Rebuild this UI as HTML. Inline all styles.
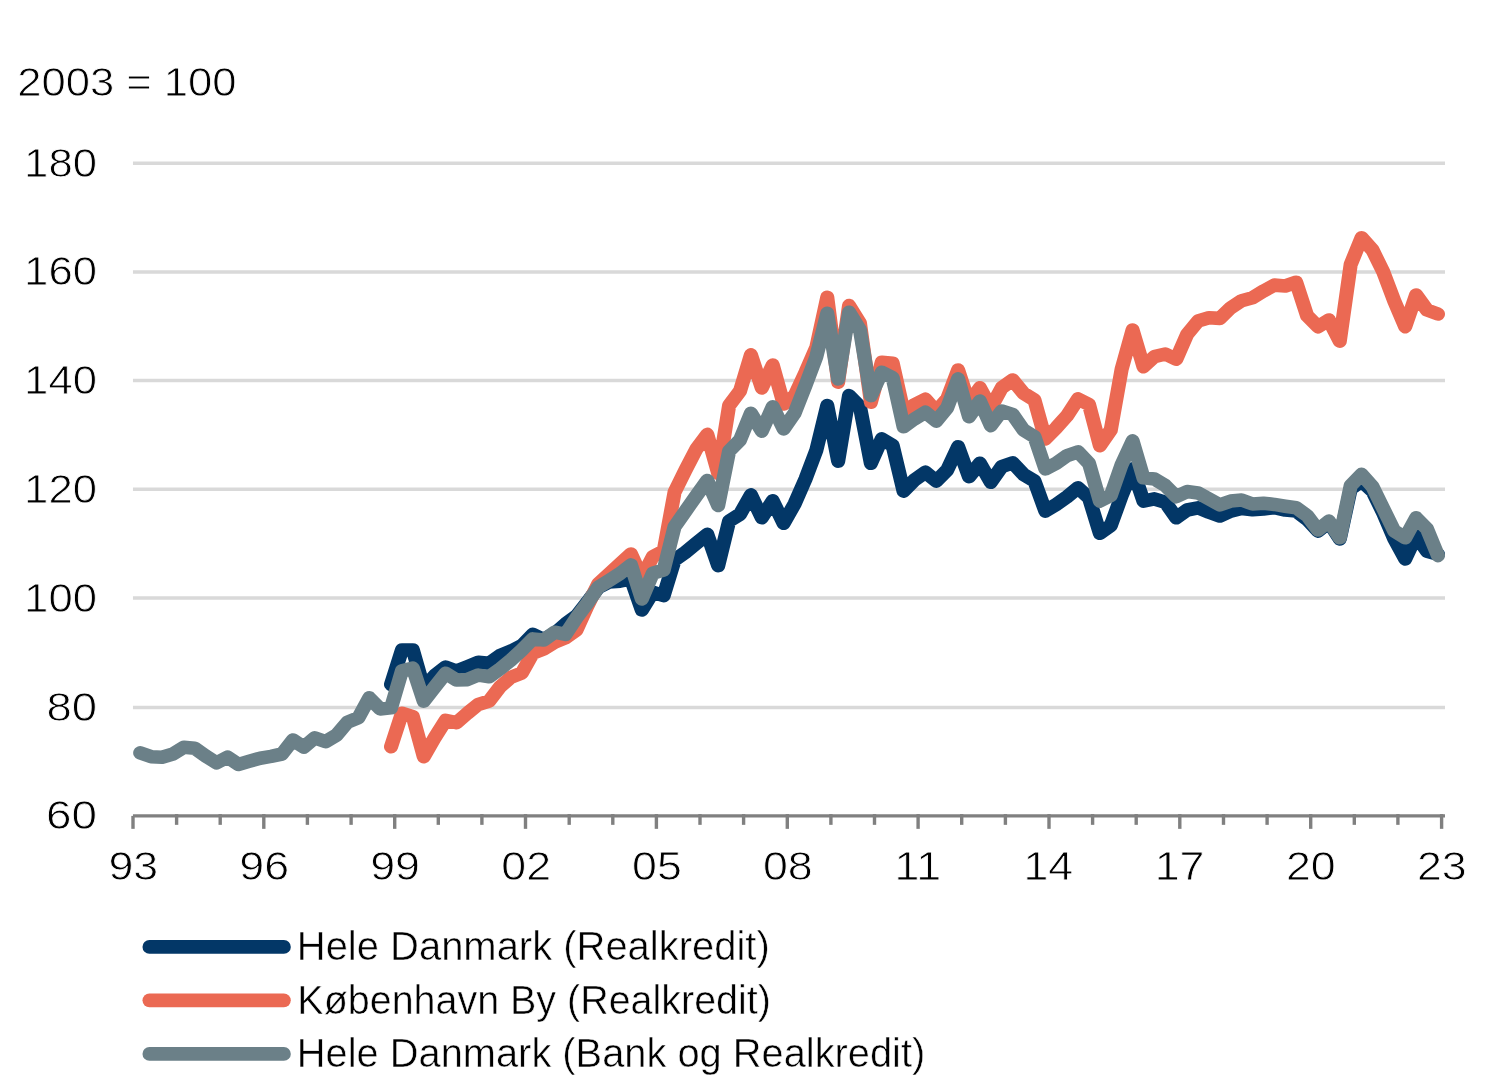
<!DOCTYPE html>
<html lang="da">
<head>
<meta charset="utf-8">
<title>2003 = 100</title>
<style>
html,body{margin:0;padding:0;background:#fff;}
body{width:1512px;height:1081px;overflow:hidden;}
svg{display:block;}
text{font-family:"Liberation Sans",sans-serif;fill:#000;stroke:#fff;stroke-width:0.8px;}
.grid line{stroke:#D9D9D9;stroke-width:3.5;}
.axis line{stroke:#808080;stroke-width:3.4;}
.ser path{fill:none;stroke-width:13.6;stroke-linecap:round;stroke-linejoin:round;}
.leg line{stroke-width:13.8;stroke-linecap:round;}
.leg text{stroke-width:0.5px;}
</style>
</head>
<body>
<svg width="1512" height="1081" viewBox="0 0 1512 1081">
<rect x="0" y="0" width="1512" height="1081" fill="#ffffff"/>
<g class="grid">
<line x1="132.96" y1="163.15" x2="1445.0" y2="163.15"/>
<line x1="132.96" y1="272.05" x2="1445.0" y2="272.05"/>
<line x1="132.96" y1="380.55" x2="1445.0" y2="380.55"/>
<line x1="132.96" y1="489.25" x2="1445.0" y2="489.25"/>
<line x1="132.96" y1="598.05" x2="1445.0" y2="598.05"/>
<line x1="132.96" y1="707.50" x2="1445.0" y2="707.50"/>
</g>
<g class="ser" transform="scale(1.04,1)">
<path stroke="#033767" d="M376.00 684.4 L386.49 650.0 L396.98 650.0 L407.46 688.0 L417.95 675.6 L428.43 667.1 L438.92 671.1 L449.40 666.7 L459.89 662.2 L470.38 663.3 L480.86 655.6 L491.35 651.1 L501.83 645.6 L512.32 634.4 L522.80 639.5 L533.29 633.5 L543.77 624.0 L554.26 616.0 L564.75 602.2 L575.23 587.5 L585.72 582.0 L596.20 581.1 L606.69 578.9 L617.17 610.0 L627.66 592.2 L638.14 595.6 L648.63 560.0 L659.12 552.2 L669.60 543.3 L680.09 534.4 L690.57 565.6 L701.06 521.1 L711.54 514.2 L722.03 494.9 L732.51 517.7 L743.00 500.8 L753.49 523.3 L763.97 504.0 L774.46 479.1 L784.94 450.2 L795.43 405.6 L805.91 461.1 L816.40 395.6 L826.88 406.7 L837.37 463.3 L847.86 438.9 L858.34 445.6 L868.83 491.1 L879.31 480.0 L889.80 472.2 L900.28 481.1 L910.77 470.0 L921.25 446.7 L931.74 476.7 L942.23 463.3 L952.71 482.2 L963.20 466.6 L973.68 462.8 L984.17 474.4 L994.65 481.1 L1005.14 511.1 L1015.62 504.4 L1026.11 496.7 L1036.60 487.8 L1047.08 497.8 L1057.57 533.3 L1068.05 525.6 L1078.54 495.6 L1089.02 468.9 L1099.51 501.1 L1110.00 498.9 L1120.48 502.2 L1130.97 517.8 L1141.45 510.0 L1151.94 507.8 L1162.42 512.2 L1172.91 516.0 L1183.39 511.1 L1193.88 508.4 L1204.37 509.7 L1214.85 509.0 L1225.34 507.7 L1235.82 510.0 L1246.31 511.1 L1256.79 519.3 L1267.28 531.1 L1277.76 522.2 L1288.25 538.9 L1298.74 488.9 L1309.22 481.1 L1319.71 491.1 L1330.19 513.3 L1340.68 538.9 L1351.16 558.9 L1361.65 535.6 L1372.13 551.2 L1382.62 554.3"/>
<path stroke="#EB6953" d="M376.00 746.7 L386.49 713.3 L396.98 716.7 L407.46 756.6 L417.95 737.8 L428.43 720.4 L438.92 722.7 L449.40 713.3 L459.89 704.4 L470.38 701.1 L480.86 686.7 L491.35 677.3 L501.83 672.9 L512.32 653.3 L522.80 648.9 L533.29 642.2 L543.77 637.8 L554.26 630.0 L564.75 606.0 L575.23 584.0 L585.72 574.0 L596.20 564.0 L606.69 554.0 L617.17 577.8 L627.66 556.7 L638.14 551.1 L648.63 492.1 L659.12 470.0 L669.60 448.9 L680.09 434.4 L690.57 473.3 L701.06 405.6 L711.54 391.1 L722.03 354.9 L732.51 388.0 L743.00 365.0 L753.49 404.0 L763.97 396.0 L774.46 372.5 L784.94 347.5 L795.43 297.3 L805.91 382.2 L816.40 305.6 L826.88 323.3 L837.37 402.2 L847.86 362.2 L858.34 363.3 L868.83 411.7 L879.31 404.8 L889.80 399.3 L900.28 411.4 L910.77 398.9 L921.25 370.0 L931.74 403.3 L942.23 387.8 L952.71 407.8 L963.20 387.8 L973.68 380.0 L984.17 393.3 L994.65 400.0 L1005.14 438.9 L1015.62 427.8 L1026.11 415.6 L1036.60 398.9 L1047.08 404.4 L1057.57 445.6 L1068.05 430.0 L1078.54 368.9 L1089.02 330.0 L1099.51 366.7 L1110.00 356.7 L1120.48 354.0 L1130.97 359.3 L1141.45 334.4 L1151.94 321.1 L1162.42 317.8 L1172.91 318.4 L1183.39 307.8 L1193.88 300.7 L1204.37 297.8 L1214.85 291.1 L1225.34 285.1 L1235.82 286.0 L1246.31 282.2 L1256.79 315.6 L1267.28 326.7 L1277.76 320.0 L1288.25 341.1 L1298.74 264.4 L1309.22 237.8 L1319.71 250.0 L1330.19 272.2 L1340.68 301.1 L1351.16 326.7 L1361.65 295.0 L1372.13 310.0 L1382.62 314.0"/>
<path stroke="#6B8088" d="M134.84 752.9 L145.32 756.7 L155.81 757.3 L166.29 754.0 L176.78 747.3 L187.26 748.2 L197.75 756.0 L208.24 762.9 L218.72 757.1 L229.21 764.4 L239.69 761.3 L250.18 758.2 L260.66 756.4 L271.15 754.0 L281.63 740.0 L292.12 747.1 L302.61 737.8 L313.09 741.6 L323.58 735.1 L334.06 722.2 L344.55 717.8 L355.03 697.8 L365.52 708.9 L376.00 707.8 L386.49 670.9 L396.98 668.1 L407.46 701.1 L417.95 687.1 L428.43 673.3 L438.92 680.0 L449.40 679.6 L459.89 675.1 L470.38 676.7 L480.86 668.9 L491.35 660.0 L501.83 650.0 L512.32 638.9 L522.80 640.0 L533.29 632.2 L543.77 634.4 L554.26 617.8 L564.75 603.3 L575.23 587.2 L585.72 580.5 L596.20 573.5 L606.69 564.9 L617.17 598.9 L627.66 573.3 L638.14 570.0 L648.63 526.7 L659.12 511.1 L669.60 495.6 L680.09 480.5 L690.57 505.5 L701.06 451.1 L711.54 440.0 L722.03 413.3 L732.51 431.1 L743.00 406.7 L753.49 428.9 L763.97 413.3 L774.46 385.6 L784.94 356.7 L795.43 313.3 L805.91 378.9 L816.40 312.2 L826.88 330.0 L837.37 395.6 L847.86 372.2 L858.34 377.8 L868.83 426.7 L879.31 418.9 L889.80 412.2 L900.28 421.1 L910.77 407.8 L921.25 378.9 L931.74 416.7 L942.23 401.1 L952.71 425.6 L963.20 411.1 L973.68 414.4 L984.17 430.0 L994.65 436.7 L1005.14 468.9 L1015.62 463.3 L1026.11 455.6 L1036.60 451.8 L1047.08 463.3 L1057.57 501.1 L1068.05 495.6 L1078.54 464.4 L1089.02 440.9 L1099.51 477.8 L1110.00 478.9 L1120.48 485.6 L1130.97 496.7 L1141.45 491.6 L1151.94 492.9 L1162.42 498.9 L1172.91 504.9 L1183.39 501.1 L1193.88 500.0 L1204.37 504.0 L1214.85 503.3 L1225.34 504.4 L1235.82 506.2 L1246.31 507.8 L1256.79 515.6 L1267.28 530.0 L1277.76 521.1 L1288.25 537.8 L1298.74 485.6 L1309.22 474.4 L1319.71 486.7 L1330.19 508.9 L1340.68 531.1 L1351.16 537.8 L1361.65 517.8 L1372.13 528.9 L1382.62 555.6"/>
</g>
<g class="axis">
<line x1="132.96" y1="815.85" x2="1445.0" y2="815.85"/>
<line x1="133.0" y1="815.9" x2="133.0" y2="828.85"/>
<line x1="176.6" y1="814.1" x2="176.6" y2="824.85"/>
<line x1="220.2" y1="814.1" x2="220.2" y2="824.85"/>
<line x1="263.8" y1="814.1" x2="263.8" y2="828.85"/>
<line x1="307.4" y1="814.1" x2="307.4" y2="824.85"/>
<line x1="351.1" y1="814.1" x2="351.1" y2="824.85"/>
<line x1="394.7" y1="814.1" x2="394.7" y2="828.85"/>
<line x1="438.3" y1="814.1" x2="438.3" y2="824.85"/>
<line x1="481.9" y1="814.1" x2="481.9" y2="824.85"/>
<line x1="525.5" y1="814.1" x2="525.5" y2="828.85"/>
<line x1="569.2" y1="814.1" x2="569.2" y2="824.85"/>
<line x1="612.8" y1="814.1" x2="612.8" y2="824.85"/>
<line x1="656.4" y1="814.1" x2="656.4" y2="828.85"/>
<line x1="700.0" y1="814.1" x2="700.0" y2="824.85"/>
<line x1="743.6" y1="814.1" x2="743.6" y2="824.85"/>
<line x1="787.3" y1="814.1" x2="787.3" y2="828.85"/>
<line x1="830.9" y1="814.1" x2="830.9" y2="824.85"/>
<line x1="874.5" y1="814.1" x2="874.5" y2="824.85"/>
<line x1="918.1" y1="814.1" x2="918.1" y2="828.85"/>
<line x1="961.7" y1="814.1" x2="961.7" y2="824.85"/>
<line x1="1005.4" y1="814.1" x2="1005.4" y2="824.85"/>
<line x1="1049.0" y1="814.1" x2="1049.0" y2="828.85"/>
<line x1="1092.6" y1="814.1" x2="1092.6" y2="824.85"/>
<line x1="1136.2" y1="814.1" x2="1136.2" y2="824.85"/>
<line x1="1179.8" y1="814.1" x2="1179.8" y2="828.85"/>
<line x1="1223.5" y1="814.1" x2="1223.5" y2="824.85"/>
<line x1="1267.1" y1="814.1" x2="1267.1" y2="824.85"/>
<line x1="1310.7" y1="814.1" x2="1310.7" y2="828.85"/>
<line x1="1354.3" y1="814.1" x2="1354.3" y2="824.85"/>
<line x1="1397.9" y1="814.1" x2="1397.9" y2="824.85"/>
<line x1="1441.6" y1="814.1" x2="1441.6" y2="828.85"/>
</g>
<g class="ylab">
<text x="24.13" y="176.6" textLength="72.84" lengthAdjust="spacingAndGlyphs" font-size="40.9">180</text>
<text x="24.13" y="285.4" textLength="72.84" lengthAdjust="spacingAndGlyphs" font-size="40.9">160</text>
<text x="24.13" y="394.1" textLength="72.84" lengthAdjust="spacingAndGlyphs" font-size="40.9">140</text>
<text x="24.13" y="502.9" textLength="72.84" lengthAdjust="spacingAndGlyphs" font-size="40.9">120</text>
<text x="24.13" y="611.7" textLength="72.84" lengthAdjust="spacingAndGlyphs" font-size="40.9">100</text>
<text x="46.47" y="720.5" textLength="50.61" lengthAdjust="spacingAndGlyphs" font-size="40.9">80</text>
<text x="46.09" y="829.3" textLength="51.00" lengthAdjust="spacingAndGlyphs" font-size="40.9">60</text>
</g>
<g class="xlab">
<text x="108.42" y="880.0" textLength="49.76" lengthAdjust="spacingAndGlyphs" font-size="40.9">93</text>
<text x="239.28" y="880.0" textLength="49.76" lengthAdjust="spacingAndGlyphs" font-size="40.9">96</text>
<text x="370.16" y="880.0" textLength="49.76" lengthAdjust="spacingAndGlyphs" font-size="40.9">99</text>
<text x="501.32" y="880.0" textLength="49.76" lengthAdjust="spacingAndGlyphs" font-size="40.9">02</text>
<text x="632.08" y="880.0" textLength="49.76" lengthAdjust="spacingAndGlyphs" font-size="40.9">05</text>
<text x="762.96" y="880.0" textLength="49.76" lengthAdjust="spacingAndGlyphs" font-size="40.9">08</text>
<text x="894.61" y="880.0" textLength="46.44" lengthAdjust="spacingAndGlyphs" font-size="40.9">11</text>
<text x="1023.41" y="880.0" textLength="49.76" lengthAdjust="spacingAndGlyphs" font-size="40.9">14</text>
<text x="1154.74" y="880.0" textLength="49.76" lengthAdjust="spacingAndGlyphs" font-size="40.9">17</text>
<text x="1285.99" y="880.0" textLength="49.76" lengthAdjust="spacingAndGlyphs" font-size="40.9">20</text>
<text x="1416.97" y="880.0" textLength="49.76" lengthAdjust="spacingAndGlyphs" font-size="40.9">23</text>
</g>
<text x="17.17" y="96.4" textLength="219.41" lengthAdjust="spacingAndGlyphs" font-size="40.9">2003 = 100</text>
<g class="leg">
<line x1="149.4" y1="946.9" x2="283.9" y2="946.9" stroke="#033767"/>
<text x="296.81" y="959.9" textLength="472.92" lengthAdjust="spacingAndGlyphs" font-size="40.0">Hele Danmark (Realkredit)</text>
<line x1="149.4" y1="1000.3" x2="283.9" y2="1000.3" stroke="#EB6953"/>
<text x="297.36" y="1013.7" textLength="473.53" lengthAdjust="spacingAndGlyphs" font-size="40.0">København By (Realkredit)</text>
<line x1="149.4" y1="1053.9" x2="283.9" y2="1053.9" stroke="#6B8088"/>
<text x="296.83" y="1067.3" textLength="628.45" lengthAdjust="spacingAndGlyphs" font-size="40.0">Hele Danmark (Bank og Realkredit)</text>
</g>
</svg>
</body>
</html>
